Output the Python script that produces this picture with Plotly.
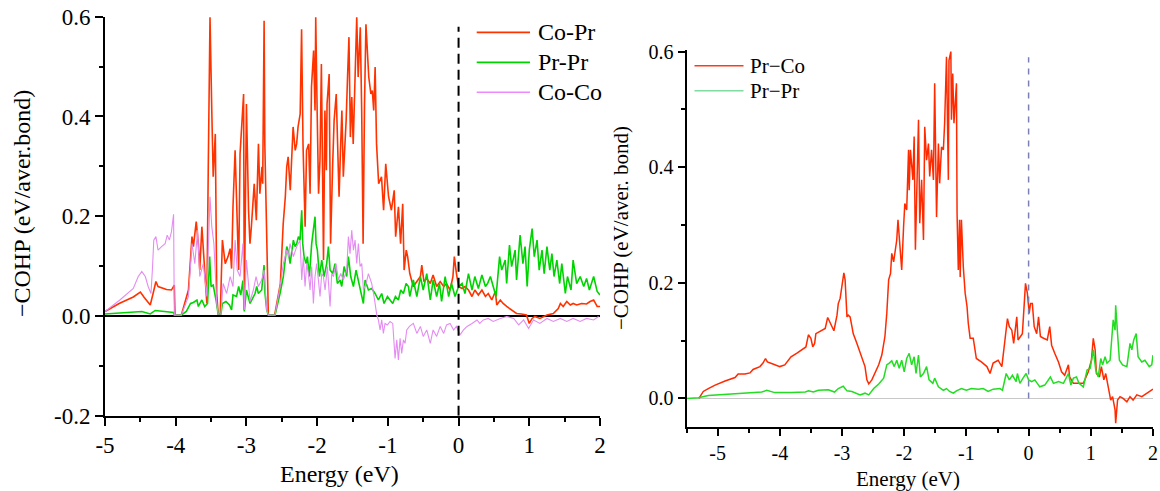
import plotly.graph_objects as go

# ---------------- left panel: -COHP of bond pairs ----------------
co_pr_e = [-5.00, -4.80, -4.60, -4.50, -4.45, -4.36, -4.32, -4.28, -4.25, -4.13, -4.06, -4.02, -4.01,
           -3.92, -3.82, -3.77, -3.75, -3.71, -3.68, -3.66, -3.63, -3.60, -3.56, -3.54, -3.515, -3.49,
           -3.47, -3.44, -3.42, -3.40, -3.37, -3.34, -3.30, -3.26, -3.23, -3.21, -3.19, -3.16, -3.14,
           -3.11, -3.09, -3.04, -3.03, -3.00, -2.97,
           -2.95, -2.93, -2.89, -2.86, -2.83, -2.81, -2.78, -2.77, -2.75, -2.74, -2.71, -2.69, -2.60,
           -2.52, -2.48, -2.45, -2.43, -2.41, -2.38, -2.36, -2.34, -2.31, -2.29, -2.27, -2.24, -2.22,
           -2.20, -2.17, -2.15, -2.12, -2.10, -2.08, -2.05, -2.03, -2.02, -2.00, -1.98, -1.96, -1.94,
           -1.91, -1.89, -1.87, -1.86, -1.83, -1.81, -1.78, -1.76, -1.73, -1.71, -1.69, -1.67, -1.65,
           -1.63, -1.59, -1.57, -1.55, -1.53, -1.51, -1.49, -1.46, -1.44, -1.42, -1.39, -1.37, -1.35,
           -1.33, -1.31, -1.27, -1.24, -1.22, -1.20, -1.18, -1.16, -1.13, -1.09, -1.06, -1.03, -0.99,
           -0.95, -0.91, -0.89, -0.85, -0.82, -0.79, -0.77, -0.74, -0.72,
           -0.69, -0.64, -0.59, -0.54, -0.52, -0.49, -0.45, -0.40, -0.36, -0.31, -0.26, -0.21, -0.17,
           -0.12, -0.08, -0.06, -0.03, 0.00, 0.05, 0.09, 0.14, 0.19, 0.23, 0.28, 0.33, 0.38, 0.42,
           0.47, 0.52, 0.54, 0.59, 0.63, 0.68, 0.75, 0.82, 0.89, 0.96, 1.00, 1.04, 1.08, 1.15, 1.25,
           1.34, 1.41, 1.44, 1.48, 1.53, 1.58, 1.62, 1.67, 1.74, 1.81, 1.86, 1.91, 1.96, 2.00]
co_pr = [0.009, 0.025, 0.038, 0.048, 0.038, 0.022, 0.045, 0.069, 0.059, 0.053, 0.052, 0.062, 0.002,
         0.002, 0.052, 0.159, 0.139, 0.189, 0.145, 0.092, 0.179, 0.105, 0.025, 0.292, 0.599, 0.412,
         0.279, 0.365, 0.045, 0.004, 0.004, 0.152, 0.105, 0.119, 0.135, 0.095, 0.219, 0.332, 0.212,
         0.092, 0.325, 0.445, 0.012, 0.425, 0.212,
         0.145, 0.179, 0.265, 0.192, 0.345, 0.245, 0.299, 0.265, 0.592, 0.345, 0.145, 0.002, 0.002,
         0.065, 0.185, 0.239, 0.299, 0.319, 0.252, 0.305, 0.379, 0.332, 0.345, 0.379, 0.405, 0.575,
         0.345, 0.179, 0.332, 0.345, 0.245, 0.459, 0.532, 0.412, 0.599, 0.412, 0.245, 0.312, 0.505,
         0.112, 0.412, 0.292, 0.425, 0.485, 0.145, 0.305, 0.392, 0.445, 0.332, 0.239, 0.332, 0.412,
         0.279, 0.392, 0.479, 0.559, 0.359, 0.439, 0.345, 0.525, 0.599, 0.479, 0.579, 0.412, 0.145,
         0.425, 0.585, 0.479, 0.445, 0.452, 0.412, 0.499, 0.345, 0.265, 0.279, 0.212, 0.305, 0.239,
         0.212, 0.252, 0.159, 0.219, 0.145, 0.225, 0.092, 0.132, 0.119,
         0.085, 0.059, 0.069, 0.079, 0.102, 0.069, 0.075, 0.065, 0.082, 0.059, 0.069, 0.059, 0.065,
         0.052, 0.079, 0.119, 0.085, 0.059, 0.055, 0.059, 0.052, 0.039, 0.052, 0.042, 0.052, 0.039, 0.045,
         0.032, 0.049, 0.022, 0.032, 0.025, 0.019, 0.012, 0.005, 0.004, 0.002, -0.015, -0.005, -0.001, -0.005, 0.002,
         0.005, 0.015, 0.025, 0.019, 0.029, 0.022, 0.025, 0.022, 0.025, 0.024, 0.029, 0.032, 0.019, 0.019]

pr_pr_e = [-5.00, -4.48, -4.36, -4.29, -4.03, -4.02, -3.92, -3.85, -3.79, -3.75, -3.70, -3.68, -3.63,
           -3.59, -3.55, -3.52, -3.50, -3.47, -3.43, -3.40, -3.36, -3.34, -3.29, -3.24, -3.21, -3.19,
           -3.14, -3.11, -3.08, -3.05, -3.03, -3.00,
           -2.949, -2.902, -2.878, -2.855, -2.831, -2.784, -2.751, -2.737, -2.713, -2.690, -2.595,
           -2.525, -2.478, -2.430, -2.407, -2.383, -2.360, -2.336, -2.312, -2.289, -2.265, -2.242,
           -2.218, -2.204, -2.185, -2.157, -2.138, -2.110, -2.077, -2.053, -2.030, -2.015, -1.997,
           -1.968, -1.935, -1.902, -1.865, -1.841, -1.817, -1.780, -1.747, -1.714, -1.676, -1.652,
           -1.619, -1.582, -1.558, -1.525, -1.487, -1.450, -1.417, -1.384, -1.346, -1.322, -1.275,
           -1.228, -1.181, -1.134, -1.087, -1.054, -1.006, -0.969, -0.931, -0.893, -0.851, -0.818,
           -0.780, -0.742, -0.709,
           -0.69, -0.64, -0.59, -0.54, -0.50, -0.45, -0.40, -0.36, -0.31, -0.27, -0.24, -0.19, -0.14,
           -0.10, -0.05, 0.00, 0.05, 0.09, 0.14, 0.19, 0.23, 0.28, 0.33, 0.38, 0.41, 0.45, 0.49, 0.53,
           0.58, 0.61, 0.66, 0.68, 0.72, 0.75, 0.80, 0.82, 0.87, 0.91, 0.94, 0.97, 1.00, 1.04, 1.07,
           1.11, 1.14, 1.18, 1.21, 1.25, 1.29, 1.32, 1.35, 1.39, 1.43, 1.46, 1.51, 1.54, 1.59, 1.62,
           1.67, 1.72, 1.77, 1.81, 1.85, 1.91, 1.96, 2.00]
pr_pr = [0.004, 0.009, 0.004, 0.011, 0.007, 0.002, 0.002, 0.009, 0.025, 0.027, 0.032, 0.019, 0.032,
         0.019, 0.025, 0.119, 0.059, 0.062, 0.032, 0.004, 0.004, 0.025, 0.029, 0.022, 0.012, 0.042,
         0.039, 0.059, 0.042, 0.071, 0.009, 0.052,
         0.025, 0.039, 0.045, 0.059, 0.045, 0.052, 0.102, 0.045, 0.012, 0.002, 0.002,
         0.045, 0.079, 0.139, 0.129, 0.105, 0.132, 0.152, 0.139, 0.145, 0.159, 0.152,
         0.212, 0.145, 0.119, 0.105, 0.119, 0.079, 0.145, 0.179, 0.199, 0.145, 0.132,
         0.079, 0.112, 0.079, 0.105, 0.139, 0.092, 0.085, 0.105, 0.065, 0.072, 0.059,
         0.099, 0.079, 0.119, 0.079, 0.059, 0.092, 0.072, 0.052, 0.025, 0.072, 0.052,
         0.055, 0.045, 0.032, 0.045, 0.025, 0.039, 0.032, 0.025, 0.039, 0.032, 0.052,
         0.045, 0.065, 0.059,
         0.039, 0.072, 0.039, 0.079, 0.052, 0.085, 0.032, 0.072, 0.039, 0.065, 0.029, 0.079, 0.039,
         0.065, 0.039, 0.059, 0.065, 0.045, 0.085, 0.052, 0.079, 0.055, 0.082, 0.059, 0.065, 0.079, 0.059, 0.039,
         0.119, 0.092, 0.112, 0.065, 0.142, 0.099, 0.132, 0.072, 0.162, 0.105, 0.139, 0.059, 0.132, 0.175, 0.119,
         0.152, 0.092, 0.132, 0.085, 0.139, 0.092, 0.125, 0.079, 0.112, 0.065, 0.105, 0.045, 0.079, 0.052, 0.112,
         0.065, 0.079, 0.059, 0.075, 0.052, 0.079, 0.049, 0.042]

co_co_e = [-5.00, -4.79, -4.60, -4.53, -4.48, -4.43, -4.39, -4.35, -4.33, -4.31, -4.28, -4.25, -4.20,
           -4.15, -4.12, -4.09, -4.06, -4.03, -4.02, -3.92, -3.82, -3.77, -3.73, -3.69, -3.66, -3.61,
           -3.56, -3.54, -3.515, -3.49, -3.46, -3.42, -3.40, -3.36, -3.33, -3.28, -3.23, -3.19, -3.16,
           -3.13, -3.09, -3.05, -3.03, -3.00,
           -2.949, -2.902, -2.864, -2.831, -2.784, -2.751, -2.713, -2.690, -2.595, -2.525, -2.478,
           -2.430, -2.407, -2.383, -2.336, -2.289, -2.242, -2.218, -2.195, -2.171, -2.147, -2.124,
           -2.100, -2.077, -2.053, -2.030, -2.006, -1.959, -1.935, -1.912, -1.888, -1.855, -1.817,
           -1.794, -1.770, -1.733, -1.700, -1.667, -1.629, -1.582, -1.558, -1.535, -1.511, -1.487,
           -1.464, -1.440, -1.417, -1.393, -1.369, -1.346, -1.308, -1.275, -1.228, -1.195, -1.157,
           -1.134, -1.110, -1.087, -1.063, -1.040, -1.006, -0.969, -0.931, -0.898, -0.874, -0.851,
           -0.827, -0.804, -0.780, -0.757, -0.733, -0.695,
           -0.64, -0.59, -0.54, -0.50, -0.45, -0.40, -0.36, -0.31, -0.26, -0.21, -0.17, -0.12, -0.07,
           -0.03, 0.02, 0.07, 0.12, 0.19, 0.26, 0.30, 0.35, 0.42, 0.49, 0.59, 0.68, 0.78, 0.85, 0.92,
           0.99, 1.06, 1.15, 1.25, 1.34, 1.44, 1.53, 1.62, 1.72, 1.81, 1.91, 1.98]
co_co = [0.009, 0.032, 0.055, 0.079, 0.089, 0.079, 0.059, 0.045, 0.092, 0.152, 0.159, 0.132, 0.139,
         0.145, 0.162, 0.152, 0.169, 0.204, 0.002, 0.002, 0.039, 0.145, 0.105, 0.172, 0.079, 0.105,
         0.039, 0.145, 0.239, 0.179, 0.145, 0.025, 0.004, 0.004, 0.065, 0.045, 0.079, 0.059, 0.152,
         0.092, 0.079, 0.145, 0.012, 0.112,
         0.029, 0.052, 0.079, 0.059, 0.072, 0.092, 0.012, 0.002, 0.002, 0.059, 0.105,
         0.132, 0.119, 0.145, 0.119, 0.139, 0.152, 0.072, 0.119, 0.059, 0.105, 0.085,
         0.052, 0.099, 0.025, 0.079, 0.105, 0.039, 0.085, 0.079, 0.052, 0.099, 0.019,
         0.085, 0.079, 0.105, 0.072, 0.085, 0.072, 0.092, 0.159, 0.125, 0.172, 0.132,
         0.152, 0.105, 0.145, 0.099, 0.105, 0.052, 0.065, 0.085, 0.065, 0.039, 0.002,
         -0.008, -0.028, -0.008, -0.035, -0.015, -0.018, -0.011, -0.015, -0.085, -0.048, -0.088,
         -0.045, -0.075, -0.048, -0.055, -0.028, -0.021,
         -0.015, -0.035, -0.021, -0.041, -0.028, -0.055, -0.028, -0.041, -0.021, -0.035, -0.018, -0.015, -0.028,
         -0.021, -0.038, -0.028, -0.021, -0.015, -0.008, -0.015, -0.008, -0.005, -0.011, -0.005, -0.001, -0.005, -0.018, -0.008,
         -0.025, -0.008, -0.015, -0.005, -0.011, -0.005, -0.011, -0.005, -0.011, -0.005, -0.008, -0.001]

left_xticks = [-5, -4, -3, -2, -1, 0, 1, 2]
left_xtext = ["-5", "-4", "-3", "-2", "-1", "0", "1", "2"]
left_yticks = [-0.2, 0.0, 0.2, 0.4, 0.6]
left_ytext = ["-0.2", "0.0", "0.2", "0.4", "0.6"]

# ---------------- right panel: Pr-Co and Pr-Pr ----------------
pr_co_e = [-5.30, -5.285, -5.23, -5.15, -5.04, -4.88, -4.72, -4.67, -4.56, -4.48, -4.43, -4.32, -4.27,
           -4.23, -4.20, -4.10, -4.00, -3.92, -3.82, -3.73, -3.62, -3.58, -3.54, -3.50, -3.47, -3.44,
           -3.42, -3.33, -3.27, -3.23, -3.18, -3.13, -3.08, -3.06, -3.03, -3.00, -2.97, -2.95, -2.92,
           -2.90, -2.87, -2.84, -2.82, -2.76, -2.71, -2.66, -2.63, -2.60, -2.57, -2.52, -2.47, -2.41,
           -2.36, -2.31, -2.28, -2.25, -2.22, -2.20, -2.17, -2.14,
           -2.12, -2.10, -2.07, -2.04, -2.01, -1.99, -1.96, -1.93, -1.92, -1.90, -1.86, -1.84, -1.82,
           -1.80, -1.77, -1.75, -1.72, -1.69, -1.67, -1.64, -1.61, -1.59, -1.56, -1.53, -1.51, -1.48,
           -1.45, -1.43, -1.40, -1.37, -1.35, -1.32, -1.29, -1.28, -1.25, -1.24, -1.22, -1.20, -1.18,
           -1.16, -1.15, -1.13, -1.11, -1.10, -1.08, -1.05, -1.02, -0.99, -0.97, -0.94, -0.89, -0.84,
           -0.76, -0.67, -0.62, -0.57, -0.49, -0.43, -0.38, -0.34, -0.31, -0.27, -0.24, -0.19, -0.17,
           -0.13, -0.10, -0.07, -0.05, -0.02, 0.01, 0.03, 0.06, 0.09, 0.13, 0.16, 0.19, 0.24, 0.30,
           0.34, 0.37, 0.42, 0.48, 0.53, 0.58, 0.64, 0.66, 0.72, 0.80, 0.88, 0.96, 1.01, 1.04, 1.07,
           1.09, 1.14, 1.17, 1.21, 1.24, 1.28, 1.32, 1.35, 1.39, 1.40, 1.43, 1.47, 1.52, 1.58, 1.63,
           1.68, 1.74, 1.82, 1.90, 1.98, 2.00]
pr_co = [0.000, 0.003, 0.012, 0.017, 0.023, 0.030, 0.036, 0.042, 0.042, 0.044, 0.050, 0.055, 0.061,
         0.069, 0.063, 0.059, 0.055, 0.058, 0.072, 0.078, 0.087, 0.089, 0.110, 0.104, 0.089, 0.095,
         0.112, 0.117, 0.121, 0.140, 0.127, 0.117, 0.144, 0.164, 0.173, 0.199, 0.217, 0.205, 0.141,
         0.144, 0.141, 0.124, 0.112, 0.095, 0.078, 0.061, 0.055, 0.032, 0.025, 0.032, 0.043, 0.058,
         0.075, 0.107, 0.147, 0.205, 0.216, 0.251, 0.236, 0.262,
         0.274, 0.309, 0.262, 0.222, 0.297, 0.337, 0.326, 0.430, 0.360, 0.430, 0.378, 0.453, 0.257,
         0.343, 0.482, 0.303, 0.378, 0.274, 0.470, 0.412, 0.441, 0.384, 0.430, 0.378, 0.545, 0.314,
         0.441, 0.372, 0.435, 0.430, 0.476, 0.591, 0.378, 0.585, 0.600, 0.482, 0.562, 0.476, 0.505,
         0.545, 0.320, 0.222, 0.309, 0.210, 0.309, 0.228, 0.182, 0.159, 0.130, 0.104, 0.104, 0.069,
         0.063, 0.055, 0.043, 0.061, 0.066, 0.055, 0.101, 0.138, 0.124, 0.118, 0.095, 0.141, 0.101,
         0.107, 0.112, 0.164, 0.199, 0.182, 0.147, 0.164, 0.164, 0.124, 0.112, 0.141, 0.107, 0.104, 0.101,
         0.124, 0.092, 0.078, 0.063, 0.046, 0.040, 0.058, 0.037, 0.026, 0.026, 0.026, 0.046, 0.066, 0.104, 0.084,
         0.043, 0.037, 0.055, 0.032, 0.043, 0.020, -0.003, 0.003, -0.020, -0.043, -0.003, 0.003, 0.000, -0.006, 0.003,
         -0.003, 0.006, 0.003, 0.009, 0.014, 0.016]

pr_pr2_e = [-5.50, -5.31, -5.15, -4.88, -4.51, -4.29, -4.21, -4.08, -3.81, -3.59, -3.54, -3.46, -3.38,
            -3.22, -3.12, -3.06, -2.98, -2.92, -2.84, -2.71, -2.63, -2.57, -2.49, -2.41, -2.33, -2.28,
            -2.24, -2.20, -2.16,
            -2.12, -2.08, -2.04, -2.00, -1.96, -1.92, -1.88, -1.84, -1.81, -1.77, -1.74, -1.69, -1.64,
            -1.60, -1.54, -1.51, -1.45, -1.37, -1.32, -1.27, -1.21, -1.16, -1.08, -1.00, -0.92, -0.81,
            -0.73, -0.65, -0.57, -0.46, -0.42, -0.36, -0.31, -0.26, -0.20, -0.18, -0.14, -0.09, -0.04,
            0.00, 0.05, 0.10, 0.18, 0.26, 0.35, 0.40, 0.48, 0.56, 0.64, 0.68, 0.72, 0.77, 0.81, 0.88,
            0.94, 0.99, 1.04, 1.08, 1.12, 1.16, 1.19, 1.23, 1.26, 1.31, 1.36, 1.39, 1.40, 1.43, 1.46,
            1.51, 1.58, 1.63, 1.66, 1.69, 1.73, 1.76, 1.82, 1.87, 1.94, 1.98, 2.00]
pr_pr2 = [0.000, 0.001, 0.005, 0.007, 0.010, 0.011, 0.014, 0.010, 0.010, 0.011, 0.013, 0.011, 0.014,
          0.015, 0.011, 0.017, 0.021, 0.013, 0.012, 0.006, 0.009, 0.006, 0.017, 0.025, 0.035, 0.058,
          0.061, 0.065, 0.055,
          0.066, 0.052, 0.066, 0.046, 0.069, 0.078, 0.058, 0.072, 0.043, 0.075, 0.037, 0.043, 0.055,
          0.032, 0.026, 0.035, 0.020, 0.014, 0.017, 0.012, 0.009, 0.013, 0.017, 0.014, 0.017, 0.016,
          0.017, 0.012, 0.016, 0.017, 0.014, 0.043, 0.032, 0.040, 0.029, 0.043, 0.026, 0.035, 0.043,
          0.032, 0.029, 0.032, 0.020, 0.023, 0.037, 0.026, 0.029, 0.026, 0.043, 0.023, 0.035, 0.037, 0.026, 0.020,
          0.049, 0.052, 0.084, 0.049, 0.037, 0.069, 0.058, 0.072, 0.061, 0.066, 0.136, 0.118, 0.161, 0.112, 0.066,
          0.058, 0.055, 0.095, 0.084, 0.101, 0.112, 0.072, 0.063, 0.066, 0.055, 0.058, 0.075]

right_xticks = [-5, -4, -3, -2, -1, 0, 1, 2]
right_xtext = ["-5", "-4", "-3", "-2", "-1", "0", "1", "2"]
right_yticks = [0.0, 0.2, 0.4, 0.6]
right_ytext = ["0.0", "0.2", "0.4", "0.6"]

SERIF = "Liberation Serif"
W, H = 1160, 491


def px_x(p):
    return p / W


def px_y(p):
    return (H - p) / H


fig = go.Figure()

# left panel traces (Co-Co drawn last, on top)
fig.add_trace(go.Scatter(x=co_pr_e, y=co_pr, mode="lines", line=dict(color="#ff3300", width=1.6),
                         xaxis="x", yaxis="y", showlegend=False))
fig.add_trace(go.Scatter(x=pr_pr_e, y=pr_pr, mode="lines", line=dict(color="#00d400", width=1.6),
                         xaxis="x", yaxis="y", showlegend=False))
fig.add_trace(go.Scatter(x=co_co_e, y=co_co, mode="lines", line=dict(color="#e48cf2", width=1.1),
                         xaxis="x", yaxis="y", showlegend=False))

# right panel traces
fig.add_trace(go.Scatter(x=pr_co_e, y=pr_co, mode="lines", line=dict(color="#ff2a00", width=1.5),
                         xaxis="x2", yaxis="y2", showlegend=False))
fig.add_trace(go.Scatter(x=pr_pr2_e, y=pr_pr2, mode="lines", line=dict(color="#22dd22", width=1.5),
                         xaxis="x2", yaxis="y2", showlegend=False))

axis_common = dict(showgrid=False, showline=True, linecolor="black", ticks="outside",
                   tickcolor="black", color="black", mirror=False, automargin=False,
                   ticklabeloverflow="allow")

# right panel horizontal placement (pixels)
R_LEFT, R_RIGHT = 686.5, 1153

fig.update_layout(
    width=W, height=H,
    margin=dict(l=0, r=0, t=0, b=0, autoexpand=False),
    paper_bgcolor="white", plot_bgcolor="white",
    font=dict(family=SERIF, color="black"),
    showlegend=False,
    xaxis=dict(domain=[px_x(105), px_x(600)], range=[-5, 2], anchor="y",
               tickvals=left_xticks, ticktext=left_xtext, zeroline=False,
               linewidth=2, tickwidth=2, ticklen=8, tickfont=dict(size=23, family=SERIF),
               minor=dict(ticks="outside", dtick=0.5, tick0=0, ticklen=4, tickwidth=2, tickcolor="black"),
               **axis_common),
    yaxis=dict(domain=[px_y(415.7), px_y(16.7)], range=[-0.2, 0.6], anchor="x",
               tickvals=left_yticks, ticktext=left_ytext,
               zeroline=True, zerolinecolor="black", zerolinewidth=2,
               linewidth=2, tickwidth=2, ticklen=8, tickfont=dict(size=23, family=SERIF),
               minor=dict(ticks="outside", dtick=0.1, tick0=0, ticklen=4, tickwidth=2, tickcolor="black"),
               **axis_common),
    xaxis2=dict(domain=[px_x(R_LEFT), px_x(R_RIGHT)], range=[-5.5, 2], anchor="y2",
                tickvals=right_xticks, ticktext=right_xtext, zeroline=False,
                linewidth=2, tickwidth=1.5, ticklen=7, tickfont=dict(size=20, family=SERIF),
                minor=dict(ticks="outside", dtick=0.5, tick0=0, ticklen=4, tickwidth=1.5, tickcolor="black"),
                **axis_common),
    yaxis2=dict(domain=[px_y(426.7), px_y(50.4)], range=[-0.049, 0.602], anchor="x2",
                tickvals=right_yticks, ticktext=right_ytext,
                zeroline=True, zerolinecolor="#c8c8c8", zerolinewidth=1,
                linewidth=2, tickwidth=1.5, ticklen=7, tickfont=dict(size=20, family=SERIF),
                minor=dict(ticks="outside", dtick=0.1, tick0=0, ticklen=4, tickwidth=1.5, tickcolor="black"),
                **axis_common),
)

# Fermi level markers
fig.add_shape(type="line", xref="x", yref="y", x0=0, x1=0, y0=-0.2, y1=0.58,
              line=dict(color="black", width=2, dash="10px,6px"))
fig.add_shape(type="line", xref="x2", yref="y2", x0=0, x1=0, y0=0, y1=0.59,
              line=dict(color="#7a7fb5", width=1.5, dash="6px,6px"))

# axis titles
fig.add_annotation(text="\u2212COHP (eV/aver.bond)", xref="paper", yref="paper",
                   x=px_x(22), y=px_y(204), textangle=-90, showarrow=False,
                   xanchor="center", yanchor="middle", font=dict(size=24, family=SERIF))
fig.add_annotation(text="Energy (eV)", xref="paper", yref="paper",
                   x=px_x(340), y=px_y(474), showarrow=False,
                   xanchor="center", yanchor="middle", font=dict(size=24, family=SERIF))
fig.add_annotation(text="\u2212COHP (eV/aver. bond)", xref="paper", yref="paper",
                   x=px_x(621), y=px_y(228), textangle=-90, showarrow=False,
                   xanchor="center", yanchor="middle", font=dict(size=21, family=SERIF))
fig.add_annotation(text="Energy (eV)", xref="paper", yref="paper",
                   x=px_x(908), y=px_y(479), showarrow=False,
                   xanchor="center", yanchor="middle", font=dict(size=21, family=SERIF))

# legends drawn as sample lines plus labels
left_legend = [("Co-Pr", "#ff3300", 32.3, 1.8), ("Pr-Pr", "#00d400", 62.3, 1.8), ("Co-Co", "#ee88ff", 92.3, 1.4)]
for label, color, ypx, w in left_legend:
    fig.add_shape(type="line", xref="paper", yref="paper", x0=px_x(476.7), x1=px_x(530),
                  y0=px_y(ypx), y1=px_y(ypx), line=dict(color=color, width=w))
    fig.add_annotation(text=label, xref="paper", yref="paper", x=px_x(536), y=px_y(ypx),
                       showarrow=False, xanchor="left", yanchor="middle",
                       font=dict(size=24, family=SERIF))

right_legend = [("Pr\u2212Co", "#ff3a1a", 65.7), ("Pr\u2212Pr", "#80dca0", 90.7)]
for label, color, ypx in right_legend:
    fig.add_shape(type="line", xref="paper", yref="paper", x0=px_x(694.5), x1=px_x(743.5),
                  y0=px_y(ypx), y1=px_y(ypx), line=dict(color=color, width=1.5))
    fig.add_annotation(text=label, xref="paper", yref="paper", x=px_x(748), y=px_y(ypx),
                       showarrow=False, xanchor="left", yanchor="middle",
                       font=dict(size=21, family=SERIF))

fig.write_html("out.html")
